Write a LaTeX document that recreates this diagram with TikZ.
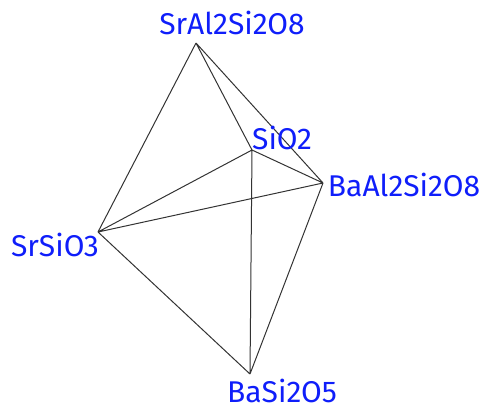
\documentclass[tikz,border=0pt]{standalone}
\usepackage{fontspec}
\setmainfont{Fira Sans}
\definecolor{lblue}{RGB}{15,30,250}
\begin{document}
\begin{tikzpicture}[x=1pt,y=-1pt,
  edge/.style={draw=black!80,line width=1pt,line join=round},
  lbl/.style={text=lblue,font=\fontsize{30}{30}\selectfont,inner sep=0pt}]
\useasboundingbox (0,0) rectangle (482,410);
\coordinate (A) at (196,43);
\coordinate (S) at (252,150);
\coordinate (B) at (323,183);
\coordinate (R) at (98,232);
\coordinate (D) at (250,374);
\draw[edge] (A) -- (R) (A) -- (S) (A) -- (B)
  (S) -- (R) (S) -- (B) (S) -- (D)
  (R) -- (B) (R) -- (D) (B) -- (D);
\node[lbl] (lA) at (232,23) {SrAl2Si2O8};
\node[lbl] (lS) at (282,138) {SiO2};
\node[lbl] (lB) at (404,185) {BaAl2Si2O8};
\node[lbl] (lR) at (55,245) {SrSiO3};
\node[lbl] (lD) at (282,391) {BaSi2O5};
\end{tikzpicture}
\end{document}
